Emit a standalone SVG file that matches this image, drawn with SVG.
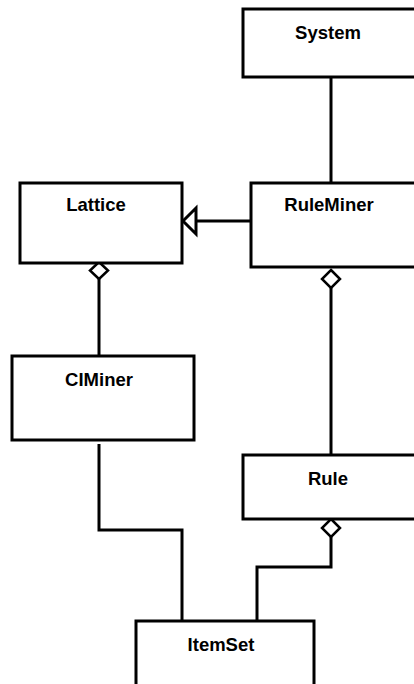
<svg xmlns="http://www.w3.org/2000/svg" width="414" height="684" viewBox="0 0 414 684">
<style>
.box{fill:#fff;stroke:#000;stroke-width:3}
.lbl{font-family:"Liberation Sans",Arial,sans-serif;font-weight:bold;font-size:18.5px;text-anchor:middle;fill:#000}
.ln{fill:none;stroke:#000;stroke-width:3}
.dia{fill:#fff;stroke:#000;stroke-width:2.5}
.tri{fill:#fff;stroke:#000;stroke-width:3}
</style>
<rect width="414" height="684" fill="#fff"/>
<g id="connectors">
<line class="ln" x1="331" y1="77" x2="331" y2="183"/>
<line class="ln" x1="251" y1="221" x2="196" y2="221"/>
<polygon class="tri" points="183,221 196,208 196,234"/>
<line class="ln" x1="99" y1="279" x2="99" y2="356"/>
<polygon class="dia" points="99,262 108,270.5 99,279 90,270.5"/>
<line class="ln" x1="331" y1="288" x2="331" y2="455"/>
<polygon class="dia" points="331,270 340,279 331,288 322,279"/>
<polyline class="ln" points="331,537 331,567 257,567 257,621"/>
<polygon class="dia" points="331,519 340,528 331,537 322,528"/>
<polyline class="ln" points="99,444 99,530 182,530 182,621"/>
</g>
<g id="System">
<rect class="box" x="243" y="9" width="190" height="68"/>
<text class="lbl" x="328" y="39">System</text>
</g>
<g id="Lattice">
<rect class="box" x="20" y="183" width="162" height="80"/>
<text class="lbl" x="96" y="211">Lattice</text>
</g>
<g id="RuleMiner">
<rect class="box" x="251" y="183" width="190" height="84"/>
<text class="lbl" x="329" y="211">RuleMiner</text>
</g>
<g id="CIMiner">
<rect class="box" x="12" y="356" width="182" height="84"/>
<text class="lbl" x="99" y="386">CIMiner</text>
</g>
<g id="Rule">
<rect class="box" x="243" y="455" width="190" height="64"/>
<text class="lbl" x="328" y="485">Rule</text>
</g>
<g id="ItemSet">
<rect class="box" x="136" y="621" width="178" height="80"/>
<text class="lbl" x="221" y="651">ItemSet</text>
</g>
</svg>
